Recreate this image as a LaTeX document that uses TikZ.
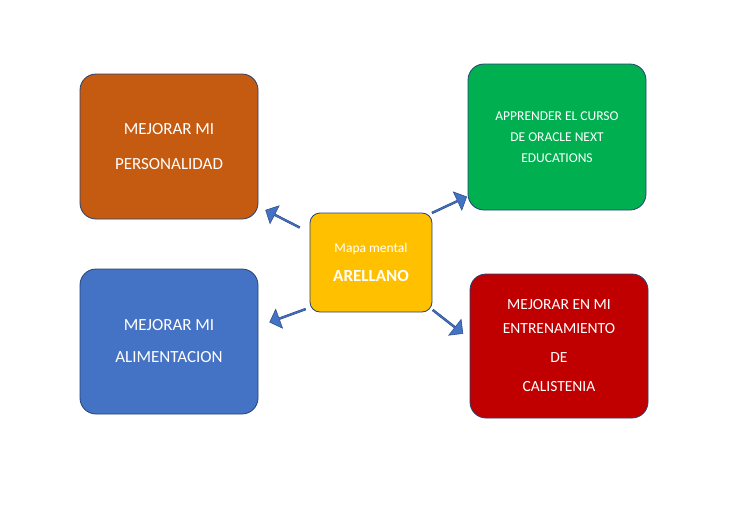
\documentclass[tikz,border=0pt]{standalone}
\usepackage{fontspec}
\setmainfont{Carlito}
\usetikzlibrary{shapes.arrows}
\definecolor{corange}{HTML}{C55A11}
\definecolor{cgreen}{HTML}{00B050}
\definecolor{cyellow}{HTML}{FFC000}
\definecolor{cblue}{HTML}{4472C4}
\definecolor{cred}{HTML}{C00000}
\definecolor{cline}{HTML}{2F528F}
\begin{document}
\begin{tikzpicture}[x=1pt,y=-1pt,
 box/.style={draw=cline!80!black,line width=0.8pt,rounded corners=16pt,inner sep=0pt,text=white,align=center},
 barrow/.style={single arrow,draw=cline,fill=cblue,line width=0.6pt,minimum height=38pt,minimum width=20pt,single arrow head extend=3pt,inner sep=0pt}]
\useasboundingbox (0,0) rectangle (733,509);
\fill[white] (0,0) rectangle (733,509);
\node[box,fill=corange,minimum width=178pt,minimum height=145pt,font=\fontsize{17}{35}\selectfont] (pers) at (169,146.5) {MEJORAR MI\\PERSONALIDAD};
\node[box,fill=cgreen,minimum width=178pt,minimum height=146pt,font=\fontsize{13.5}{21}\selectfont] (orac) at (557,137) {APPRENDER EL CURSO\\DE ORACLE NEXT\\EDUCATIONS};
\node[box,fill=cyellow,rounded corners=10pt,minimum width=122pt,minimum height=99pt] (ctr) at (371,262.5) {\fontsize{13.5}{16}\selectfont Mapa mental\\[14pt]\fontsize{17}{20}\selectfont\bfseries ARELLANO};
\node[box,fill=cblue,minimum width=178pt,minimum height=145pt,font=\fontsize{17}{32}\selectfont] (alim) at (169,341.5) {MEJORAR MI\\ALIMENTACION};
\node[box,fill=cred,minimum width=178pt,minimum height=144pt,font=\fontsize{15.5}{29}\selectfont] (cal) at (559,346) {MEJORAR EN MI\\[-5pt]ENTRENAMIENTO\\DE\\CALISTENIA};
\node[barrow,rotate=153] (a1) at (283,219) {};
\node[barrow,rotate=25] (a2) at (449,205) {};
\node[barrow,rotate=200] (a3) at (288,315.5) {};
\node[barrow,rotate=-38] (a4) at (447.5,321.5) {};
\end{tikzpicture}
\end{document}
